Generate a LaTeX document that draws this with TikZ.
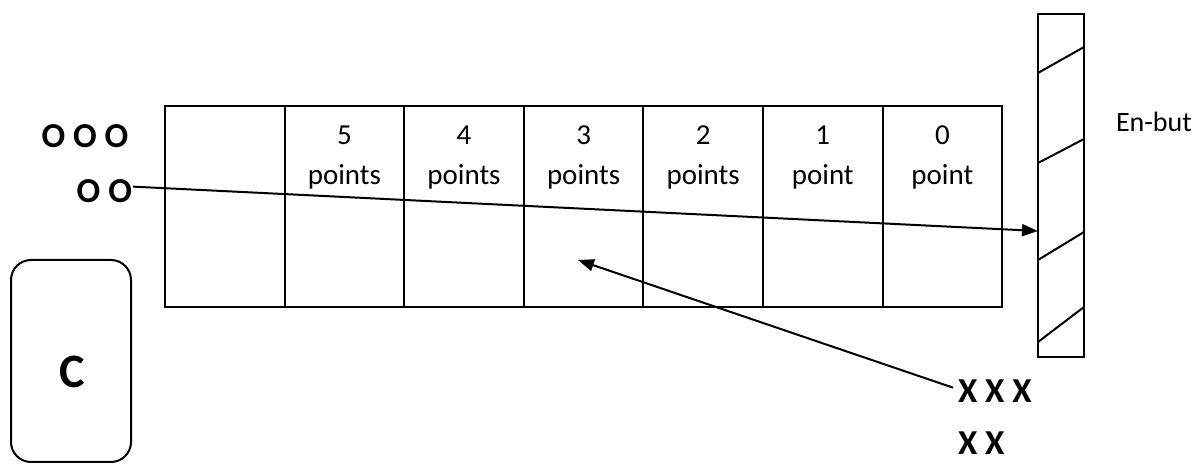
\documentclass[tikz,border=0pt]{standalone}
\usepackage{fontspec}
\setmainfont{Carlito}
\usetikzlibrary{arrows.meta}
\begin{document}
\begin{tikzpicture}[x=0.5pt,y=-0.5pt,line width=1pt,
  lbl/.style={font=\fontsize{14.5}{16}\selectfont,inner sep=0pt},
  tok/.style={font=\fontsize{17.5}{19}\selectfont\bfseries,inner sep=0pt},
  arr/.style={-{Triangle[length=8pt,width=6pt]}},
  cellbox/.style={draw,minimum width=59.8pt,minimum height=100.5pt,inner sep=0pt}]
\useasboundingbox (0,0) rectangle (1201,464);

% scoring lanes
\foreach \k in {0,...,6}
  \node[cellbox] (c\k) at (224.8+119.6*\k,206.5) {};
\foreach \n/\w [count=\k] in {5/points,4/points,3/points,2/points,1/point,0/point} {
  \node[lbl,anchor=base] (n\k) at (224.8+119.6*\k,145) {\n};
  \node[lbl,anchor=base] (w\k) at (224.8+119.6*\k,185) {\w};
}

% end wall with hatching
\node[draw,minimum width=23pt,minimum height=171.5pt,inner sep=0pt] (wall) at (1061,185.5) {};
\draw (1038,73) -- (1084,47);
\draw (1038,163) -- (1084,139);
\draw (1038,260) -- (1084,232);
\draw (1038,342) -- (1084,307);
\node[font=\fontsize{14}{16}\selectfont,inner sep=0pt,anchor=base west] (enbut) at (1115,132) {En-but};

% box C
\node[draw,rounded corners=10pt,minimum width=60pt,minimum height=101pt,inner sep=0pt] (cbox) at (71,361) {};
\node[font=\fontsize{24}{26}\selectfont\bfseries,anchor=base,inner sep=0pt] (clbl) at (72,388) {C};

% players
\node[tok,anchor=base] (ooo) at (85,148) {O O O};
\node[tok,anchor=base east] (oo) at (133,203) {O O};
\node[tok,anchor=base west] (xxx) at (957,403) {X X X};
\node[tok,anchor=base west] (xx) at (957,455) {X X};

% throws
\coordinate (hit) at (1038,231);
\coordinate (aim) at (578,260);
\draw[arr] ([yshift=2.5pt]oo.east) -- (hit);
\draw[arr] ([xshift=-2pt,yshift=2pt]xxx.west) -- (aim);
\end{tikzpicture}
\end{document}
